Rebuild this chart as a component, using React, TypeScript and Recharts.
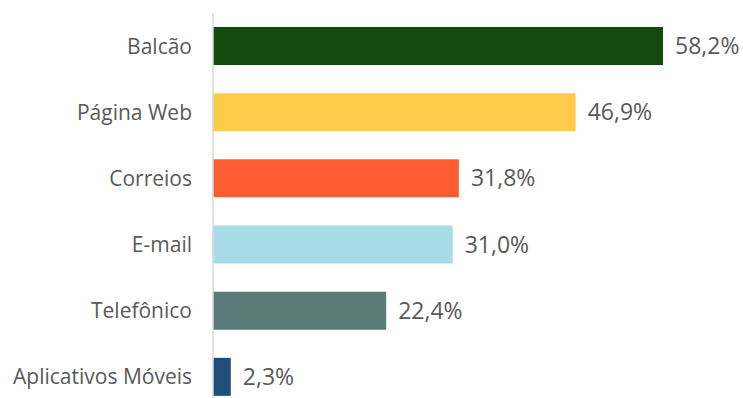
import { Bar, BarChart, Cell, LabelList, XAxis, YAxis } from 'recharts';

const categories = ['Balcão', 'Página Web', 'Correios', 'E-mail', 'Telefônico', 'Aplicativos Móveis'];
const shares = [58.2, 46.9, 31.8, 31.0, 22.4, 2.3];
const barColors = ['#134B0F', '#FFCB4A', '#FF5C33', '#A6DCE6', '#5B7B79', '#1F4E79'];

const data = categories.map((name, i) => ({ name, value: shares[i], fill: barColors[i] }));

const textColor = '#595959';
const font = '"Open Sans", sans-serif';

const formatPct = (v: unknown) => `${Number(v).toFixed(1).replace('.', ',')}%`;

export default function App() {
  return (
    <div style={{ position: 'absolute', top: 0, left: 0, width: 743, height: 398, overflow: 'hidden', background: '#fff' }}>
      <BarChart
        width={743}
        height={410}
        data={data}
        layout="vertical"
        margin={{ top: 13, right: 80, bottom: 0, left: 0 }}
        barSize={38}
      >
        <XAxis type="number" domain={[0, 'dataMax']} hide />
        <YAxis
          type="category"
          dataKey="name"
          width={213}
          axisLine={{ stroke: '#d9d9d9', strokeWidth: 1.5 }}
          tickLine={false}
          tickSize={0}
          tickMargin={21}
          tick={{ fill: textColor, fontSize: 21, fontFamily: font }}
          interval={0}
        />
        <Bar dataKey="value" isAnimationActive={false}>
          {data.map((d) => (
            <Cell key={d.name} fill={d.fill} />
          ))}
          <LabelList
            dataKey="value"
            position="right"
            offset={12}
            formatter={formatPct}
            style={{ fill: textColor, fontSize: 23, fontFamily: font }}
          />
        </Bar>
      </BarChart>
    </div>
  );
}
